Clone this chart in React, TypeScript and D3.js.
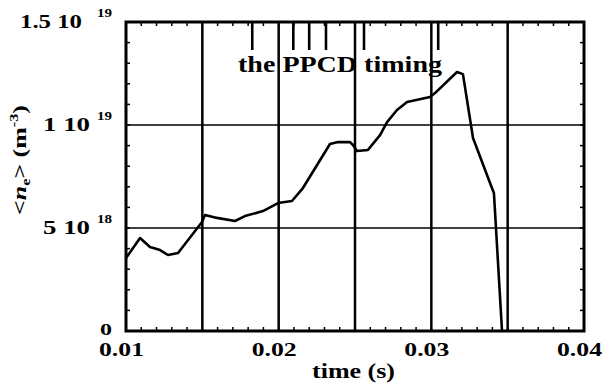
import React from "react";
import * as d3 from "d3";

const times = [0.01, 0.01092, 0.01157, 0.01223, 0.01275, 0.01341, 0.01498, 0.01517, 0.01596, 0.01714, 0.01779, 0.01897, 0.01996, 0.02087, 0.02159, 0.02336, 0.02389, 0.02467, 0.02487, 0.02513, 0.02585, 0.02664, 0.0271, 0.02775, 0.02841, 0.02991, 0.03024, 0.03168, 0.03207, 0.03273, 0.03397, 0.0341, 0.03463];
const density = [3.54, 4.51, 4.08, 3.93, 3.69, 3.79, 5.29, 5.63, 5.49, 5.34, 5.58, 5.82, 6.21, 6.31, 6.94, 9.08, 9.17, 9.17, 9.03, 8.74, 8.79, 9.51, 10.14, 10.73, 11.12, 11.36, 11.55, 12.57, 12.47, 9.37, 6.94, 6.7, 0].map((v) => v * 1e18);
const ppcdTimes = [0.01827, 0.02096, 0.022, 0.0231, 0.02559, 0.03045];
const xTickValues = [0.01, 0.02, 0.03, 0.04];
const xTickLabels = ["0.01", "0.02", "0.03", "0.04"];
const xGridValues = [0.015, 0.02, 0.025, 0.03, 0.035];
const yGridValues = [5e18, 1e19];
const yTickValues = [0, 5e18, 1e19, 1.5e19];
const yTickMain = ["0", "5 10", "1 10", "1.5 10"];
const yTickExp = ["", "18", "19", "19"];

const W = 605, H = 389;
const L = 126, R = 584, T = 22, B = 331;
const FONT = "'Liberation Serif', 'Times New Roman', Times, serif";

export default function App() {
  const x = d3.scaleLinear().domain([0.01, 0.04]).range([L, R]);
  const y = d3.scaleLinear().domain([0, 1.5e19]).range([B, T]);
  const line = d3.line<number>().x((_, i) => x(times[i])).y((d) => y(d));
  const xMinor = d3.range(0, 31).map((i) => 0.01 + i * 0.001);
  const yMinor = d3.range(0, 16).map((i) => i * 1e18);
  return (
    <svg width={W} height={H} style={{ position: "absolute", left: 0, top: 0, background: "#fff" }} fontFamily={FONT} fontWeight="bold">
      {xMinor.map((t, i) => (
        <g key={"xm" + i}>
          <line x1={x(t)} x2={x(t)} y1={B} y2={B - 4} stroke="#000" strokeWidth={1.5} />
          <line x1={x(t)} x2={x(t)} y1={T} y2={T + 4} stroke="#000" strokeWidth={1.5} />
        </g>
      ))}
      {yMinor.map((v, i) => (
        <g key={"ym" + i}>
          <line x1={L} x2={L + 4} y1={y(v)} y2={y(v)} stroke="#000" strokeWidth={1.5} />
          <line x1={R} x2={R - 4} y1={y(v)} y2={y(v)} stroke="#000" strokeWidth={1.5} />
        </g>
      ))}
      {xGridValues.map((t, i) => (
        <line key={"xg" + i} x1={x(t)} x2={x(t)} y1={T} y2={B} stroke="#000" strokeWidth={2.5} />
      ))}
      {yGridValues.map((v, i) => (
        <line key={"yg" + i} x1={L} x2={R} y1={y(v)} y2={y(v)} stroke="#000" strokeWidth={1.6} />
      ))}
      {ppcdTimes.map((t, i) => (
        <line key={"pp" + i} x1={x(t)} x2={x(t)} y1={T} y2={T + 28} stroke="#000" strokeWidth={2.6} />
      ))}
      <text x={238} y={72} fontSize={24} textLength={204} lengthAdjust="spacingAndGlyphs">the PPCD timing</text>
      <path d={line(density) || ""} fill="none" stroke="#000" strokeWidth={2.6} strokeLinejoin="round" />
      <rect x={L} y={T} width={R - L} height={B - T} fill="none" stroke="#000" strokeWidth={3} />
      {xTickValues.map((t, i) => (
        <text key={"xl" + i} x={x(t) - 27} y={356} fontSize={18} textLength={45} lengthAdjust="spacingAndGlyphs">{xTickLabels[i]}</text>
      ))}
      <text x={312} y={378} fontSize={20} textLength={83} lengthAdjust="spacingAndGlyphs">time (s)</text>
      {yTickValues.map((v, i) => {
        if (i === 0) {
          return <text key="yl0" x={100} y={y(v) + 4} fontSize={17} textLength={12} lengthAdjust="spacingAndGlyphs">0</text>;
        }
        const wide = i === 3;
        return (
          <g key={"yl" + i}>
            <text x={wide ? 20 : 43} y={y(v) + 6} fontSize={19} textLength={wide ? 62 : 47} lengthAdjust="spacingAndGlyphs">{yTickMain[i]}</text>
            <text x={97} y={y(v) - 5} fontSize={12} textLength={15} lengthAdjust="spacingAndGlyphs">{yTickExp[i]}</text>
          </g>
        );
      })}
      <text transform="translate(26,160) rotate(-90)" textAnchor="middle" fontSize={19} textLength={110} lengthAdjust="spacingAndGlyphs">
        <tspan>&lt;</tspan>
        <tspan fontStyle="italic">n</tspan>
        <tspan fontSize={12} dy={4}>e</tspan>
        <tspan dy={-4}>{">  (m"}</tspan>
        <tspan fontSize={12} dy={-8}>-3</tspan>
        <tspan dy={8}>)</tspan>
      </text>
    </svg>
  );
}
